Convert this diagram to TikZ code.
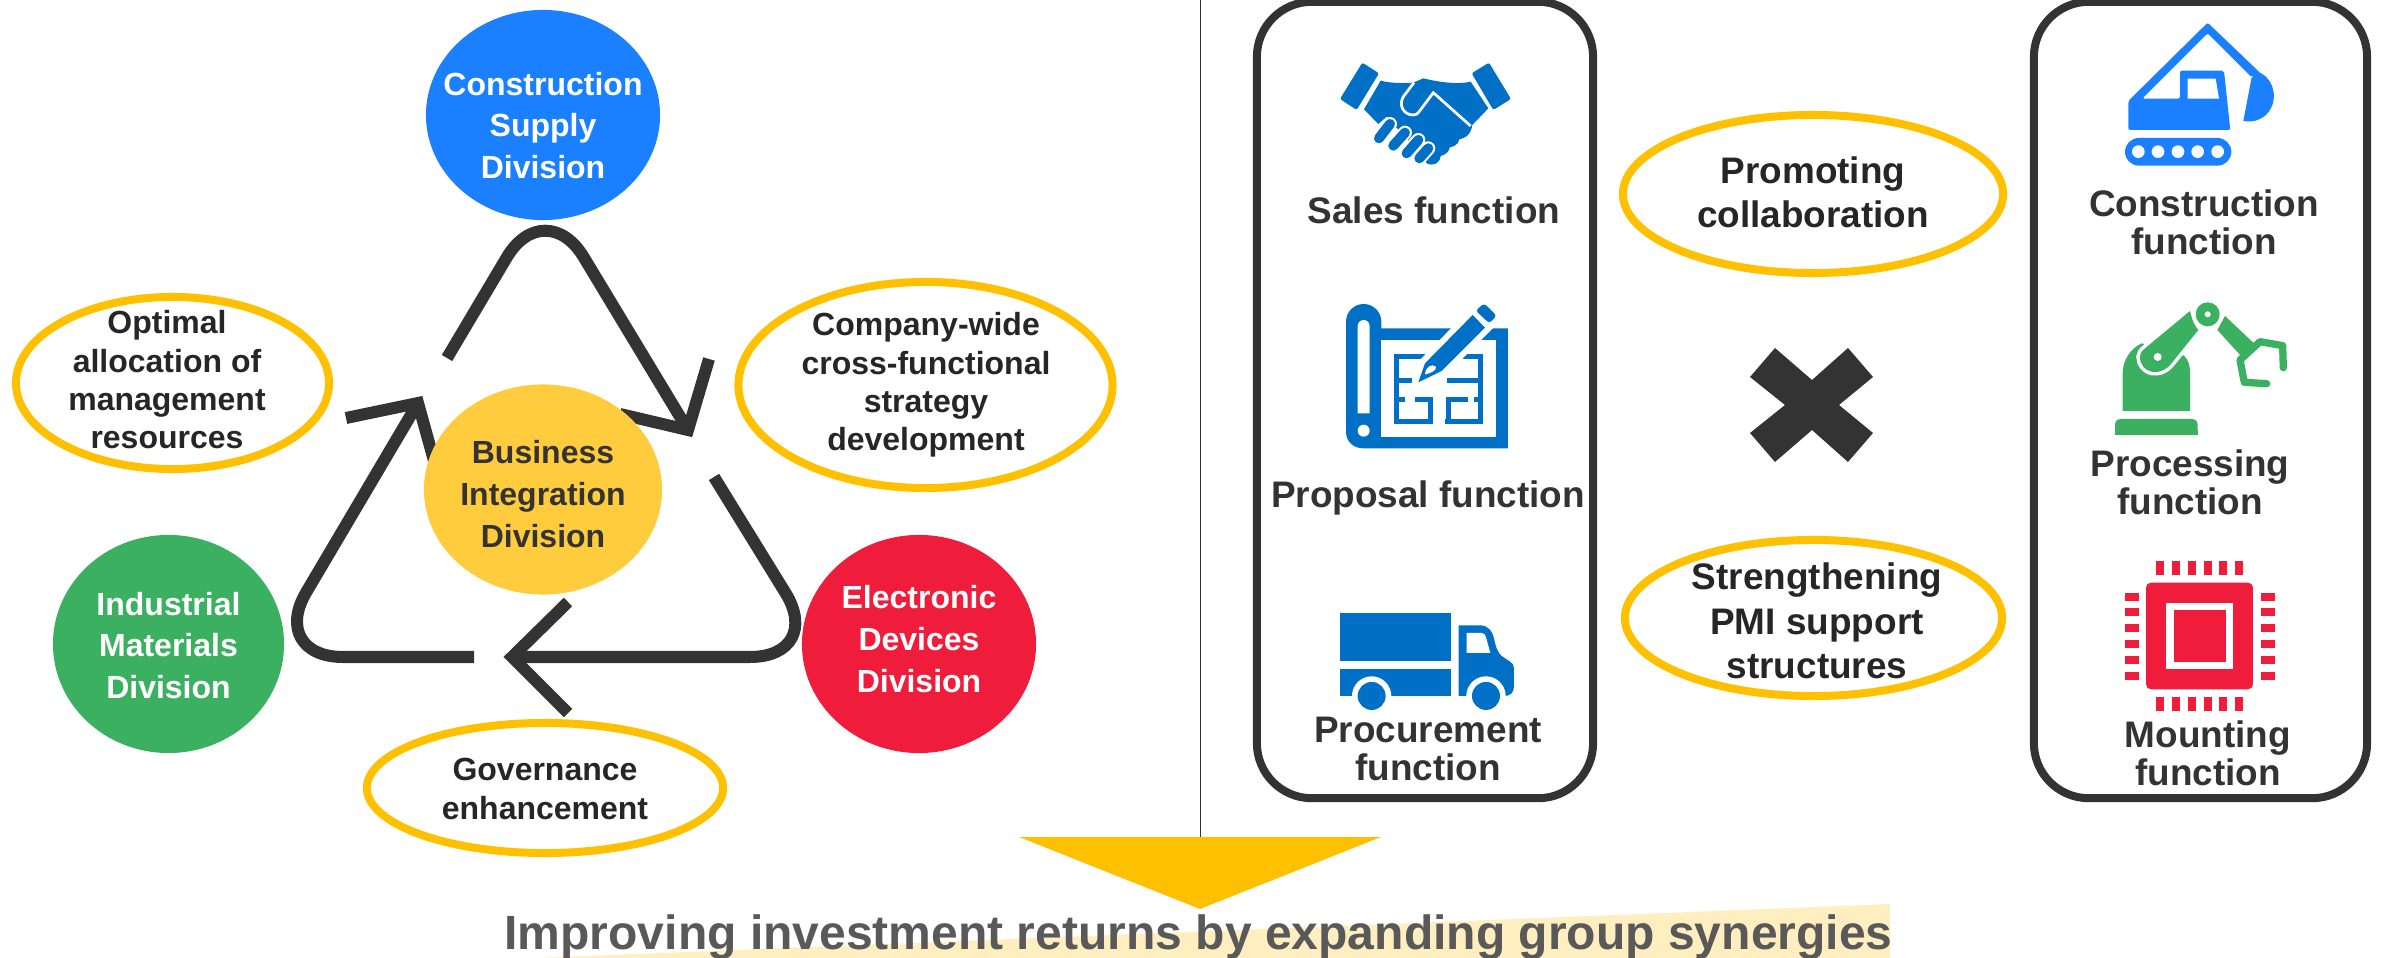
\documentclass[tikz,border=0pt]{standalone}
\usepackage{fontspec}
\setmainfont{Liberation Sans}
\usetikzlibrary{shapes.geometric}

\definecolor{darkline}{HTML}{333333}
\definecolor{oaltext}{HTML}{262626}
\definecolor{ovalline}{HTML}{FFC000}
\definecolor{constrblue}{HTML}{1A80FF}
\definecolor{iconblue}{HTML}{0070C6}
\definecolor{matgreen}{HTML}{3BB060}
\definecolor{devred}{HTML}{F01C3C}
\definecolor{bizyellow}{HTML}{FFCC3D}
\definecolor{titlegray}{HTML}{595959}
\definecolor{bandcream}{HTML}{FFEEC0}

\tikzset{
  division/.style={ellipse, inner sep=0pt},
  divtext/.style={align=center, font=\fontsize{9.1}{11.9}\selectfont\bfseries},
  oval/.style={ellipse, draw=ovalline, line width=.08cm, inner sep=0pt},
  ovaltext/.style={align=center, text=oaltext, font=\fontsize{9.1}{10.9}\selectfont\bfseries},
  bigoval/.style={ovaltext, font=\fontsize{10.5}{12.6}\selectfont\bfseries},
  funcbox/.style={draw=darkline, line width=.08cm, rounded corners=.55cm, inner sep=0pt},
  functext/.style={align=center, text=darkline, font=\fontsize{10.5}{10.8}\selectfont\bfseries},
  cycleline/.style={draw=darkline, line width=.12cm, line join=miter},
}

\begin{document}
\begin{tikzpicture}[x=0.01cm,y=-0.01cm]
\useasboundingbox (0,0) rectangle (2396,958);

% band and title
\fill[bandcream] (536,958) -- (1890,904) -- (1890,958) -- cycle;
\draw[darkline, line width=.01cm] (1200,0) -- (1200,837);
\fill[ovalline] (1019,837) -- (1381,837) -- (1200,909) -- cycle;
\node[text=titlegray, font=\fontsize{13.66}{16}\selectfont\bfseries] (title) at (1198.5,937) {Improving investment returns by expanding group synergies};

% the cycle
\coordinate (topstart) at (447,358);
\coordinate (apex) at (545,193);
\coordinate (righttip) at (688,430);
\coordinate (rightarma) at (709,359);
\coordinate (rightarmb) at (620,414);
\coordinate (rightstart) at (714,477);
\coordinate (rightcorner) at (825,657);
\coordinate (bottomtip) at (512,657);
\coordinate (bottomarma) at (568,602);
\coordinate (bottomarmb) at (568,713);
\coordinate (bottomstart) at (474,657);
\coordinate (leftcorner) at (268,657);
\coordinate (lefttip) at (418,403);
\coordinate (leftarma) at (346,418);
\coordinate (leftarmb) at (436,468);

\draw[cycleline, rounded corners=.75cm] (topstart) -- (apex) -- (righttip);
\draw[cycleline] (rightarma) -- (righttip) -- (rightarmb);
\draw[cycleline, rounded corners=.75cm] (rightstart) -- (rightcorner) -- (bottomtip);
\draw[cycleline] (bottomarma) -- (bottomtip) -- (bottomarmb);
\draw[cycleline, rounded corners=.75cm] (bottomstart) -- (leftcorner) -- (lefttip);
\draw[cycleline] (leftarma) -- (lefttip) -- (leftarmb);

% divisions
\node[division, fill=constrblue, minimum width=2.34cm, minimum height=2.10cm] (constr) at (543,115) {};
\node[divtext, text=white] (constrtext) at (543,125.5) {Construction\\Supply\\Division};
\node[division, fill=bizyellow, minimum width=2.38cm, minimum height=2.10cm] (biz) at (543,489.5) {};
\node[divtext, text=darkline] (biztext) at (543,494) {Business\\Integration\\Division};
\node[division, fill=matgreen, minimum width=2.31cm, minimum height=2.18cm] (mat) at (168.5,644) {};
\node[divtext, text=white] (mattext) at (168.5,645.5) {Industrial\\Materials\\Division};
\node[division, fill=devred, minimum width=2.34cm, minimum height=2.18cm] (dev) at (919,644) {};
\node[divtext, text=white] (devtext) at (919,639) {Electronic\\Devices\\Division};

% yellow ovals
\node[oval, minimum width=3.13cm, minimum height=1.72cm] (alloc) at (172.5,383) {};
\node[ovaltext] (alloctext) at (167,380) {Optimal\\allocation of\\management\\resources};
\node[oval, minimum width=3.74cm, minimum height=2.06cm] (strategy) at (925.5,385) {};
\node[ovaltext] (strategytext) at (926,385) {Company-wide\\cross-functional\\strategy\\development};
\node[oval, minimum width=3.56cm, minimum height=1.30cm] (govern) at (545,788) {};
\node[ovaltext] (governtext) at (545,789) {Governance\\enhancement};
\node[oval, minimum width=3.80cm, minimum height=1.58cm] (collab) at (1813,194) {};
\node[bigoval] (collabtext) at (1813,192.5) {Promoting\\collaboration};
\node[oval, minimum width=3.77cm, minimum height=1.56cm] (pmi) at (1813.5,618) {};
\node[bigoval] (pmitext) at (1817,621) {Strengthening\\PMI support\\structures};

% cross
\fill[darkline] (1812,380) -- (1848,348) -- (1873,377) -- (1839,405) -- (1873,433) -- (1848,462) -- (1812,430) -- (1775,462) -- (1750,433) -- (1785,405) -- (1750,377) -- (1775,348) -- cycle;

% function boxes
\node[funcbox, minimum width=3.36cm, minimum height=7.96cm] (leftbox) at (1425,400) {};
\node[funcbox, minimum width=3.33cm, minimum height=7.96cm] (rightbox) at (2200.5,400) {};
\node[functext] (sales) at (1434,210) {Sales function};
\node[functext] (proposal) at (1428,498) {Proposal function};
\node[functext] (procure) at (1428,749) {Procurement\\function};
\node[functext] (construct) at (2204,222.5) {Construction\\function};
\node[functext] (process) at (2190,482) {Processing\\function};
\node[functext] (mount) at (2208,753) {Mounting\\ function};

% handshake
\begin{scope}[shift={(1230,0)},scale=.3333]
  \fill[iconblue, rounded corners=.02cm] (397,188) -- (447,220) -- (380,330) -- (330,297) -- cycle;
  \fill[iconblue, rounded corners=.02cm] (777,188) -- (843,297) -- (790,330) -- (725,220) -- cycle;
  \fill[iconblue] (452,242) .. controls (480,250) and (520,250) .. (550,248) -- (580,235) .. controls (620,245) and (680,255) .. (722,245) -- (775,325) -- (727,375) .. controls (722,410) and (700,415) .. (688,418) .. controls (685,435) and (670,440) .. (660,442) .. controls (655,462) and (640,465) .. (632,468) .. controls (630,490) and (610,500) .. (590,490) -- (560,450) -- (470,350) -- (445,372) -- (402,328) -- cycle;
  \draw[white, line width=.027cm] (552,248) -- (520,290) .. controls (505,315) and (520,345) .. (550,345) .. controls (558,345) and (562,342) .. (565,338) -- (610,278) -- (722,378);
  \foreach \xa/\ya/\xb/\yb in {447/415/480/372, 490/437/525/398, 530/460/565/420, 568/475/595/445} {
    \draw[white, line width=.14cm, line cap=round] (\xa,\ya) -- (\xb,\yb);
    \draw[iconblue, line width=.10cm, line cap=round] (\xa,\ya) -- (\xb,\yb);
  }
\end{scope}

% blueprint
\begin{scope}[shift={(1335,295)},scale=.3333]
  \fill[iconblue] (33,80) arc (180:360:53) -- (139,100) -- (519,100) -- (519,460) -- (85,460) .. controls (55,460) and (33,440) .. (33,410) -- cycle;
  \fill[white] (139,135) rectangle (484,425);
  \fill[white] (68,93) arc (180:360:18) -- (104,355) -- (68,355) -- cycle;
  \fill[white] (86,407) circle[radius=18];
  \draw[iconblue, line width=.05cm] (270,185) -- (185,185) -- (185,380) -- (293,380);
  \draw[iconblue, line width=.05cm] (385,185) -- (437,185) -- (437,380) -- (330,380);
  \draw[iconblue, line width=.05cm] (185,258) -- (232,258);
  \draw[iconblue, line width=.05cm] (335,258) -- (437,258);
  \draw[iconblue, line width=.05cm] (185,313) -- (210,313);
  \draw[iconblue, line width=.05cm] (240,313) -- (285,313) -- (285,380);
  \draw[iconblue, line width=.05cm] (340,380) -- (340,313) -- (400,313);
  \draw[iconblue, line width=.05cm] (418,313) -- (437,313);
  \draw[white, line width=.12cm] (413,60) -- (270,205) -- (250,262) -- (320,228) -- (450,98) -- cycle;
  \fill[iconblue] (413,60) -- (270,205) -- (250,262) -- (320,228) -- (450,98) -- cycle;
  \fill[white] (270,238) .. controls (272,215) and (290,205) .. (303,215) .. controls (305,225) and (290,235) .. (270,238) -- cycle;
  \fill[iconblue, rounded corners=.03cm] (422,47) -- (447,25) -- (485,62) -- (463,85) -- cycle;
\end{scope}

% truck
\begin{scope}[shift={(1230,400)},scale=.3333]
  \fill[iconblue] (330,640) rectangle (663,782);
  \fill[iconblue] (330,806) rectangle (663,888);
  \fill[iconblue] (686,676) -- (750,676) .. controls (775,676) and (788,695) .. (792,715) .. controls (798,745) and (805,760) .. (815,768) -- (840,785) .. controls (848,790) and (852,795) .. (852,805) -- (852,860) .. controls (852,878) and (840,888) .. (825,888) -- (686,888) -- cycle;
  \fill[white] (710,699) -- (755,699) .. controls (763,699) and (766,705) .. (768,712) -- (781,759) -- (710,759) -- cycle;
  \foreach \wx in {425,768} {
    \fill[white] (\wx,888) circle[radius=59];
    \fill[white] (\wx-59,888) rectangle (\wx+59,935);
    \fill[iconblue] (\wx,888) circle[radius=42];
  }
\end{scope}

% excavator
\begin{scope}[shift={(2030,0)},scale=.3333]
  \fill[constrblue, rounded corners=.02cm] (295,303) -- (533,68) -- (692,220) -- (665,232) -- (533,100) -- (337,296) -- (450,296) -- (450,212) -- (582,212) -- (601,390) -- (295,390) -- cycle;
  \fill[white] (473,236) -- (557,236) -- (567,296) -- (473,296) -- cycle;
  \fill[constrblue] (665,232) -- (690,218) .. controls (715,230) and (732,258) .. (732,290) .. controls (730,335) and (695,372) .. (640,363) -- cycle;
  \fill[constrblue, rounded corners=.138cm] (285,414) rectangle (604,497);
  \foreach \hx in {325,384,444,503,563} \fill[white] (\hx,455) circle[radius=19];
\end{scope}

% robot arm
\begin{scope}[shift={(2110,295)},scale=.3333]
  \fill[matgreen, rounded corners=.05cm] (15,420) -- (15,372) -- (263,372) -- (263,420) -- cycle;
  \fill[matgreen] (15,405) rectangle (263,420);
  \fill[matgreen] (38,348) -- (38,235) .. controls (38,195) and (62,160) .. (95,145) -- (222,182) .. controls (235,195) and (240,210) .. (240,235) -- (240,348) -- cycle;
  \draw[white, line width=.07cm] (105,160) -- (240,48) .. controls (245,70) and (252,90) .. (265,105) -- (182,208) .. controls (160,235) and (120,240) .. (100,215) .. controls (85,195) and (85,175) .. (105,160) -- cycle;
  \fill[matgreen] (105,160) -- (240,48) .. controls (245,70) and (252,90) .. (265,105) -- (182,208) .. controls (160,235) and (120,240) .. (100,215) .. controls (85,195) and (85,175) .. (105,160) -- cycle;
  \fill[white] (143,186) circle[radius=12];
  \fill[matgreen] (345,63) -- (435,148) -- (395,185) -- (322,105) -- cycle;
  \fill[white] (293,58) circle[radius=47];
  \fill[matgreen] (293,58) circle[radius=36];
  \fill[white] (293,58) circle[radius=9];
  \draw[matgreen, line width=.073cm, line cap=round, line join=round] (470,266) -- (403,262) -- (390,195) -- (450,140) -- (518,152) -- (520,218);
\end{scope}

% chip
\begin{scope}[shift={(2030,420)},scale=.3333]
  \fill[devred, rounded corners=.05cm] (348,488) rectangle (669,808);
  \fill[white] (408,548) rectangle (610,748);
  \fill[devred] (432,570) rectangle (588,726);
  \foreach \px in {378,426,474,522,567,615} {
    \fill[devred] (\px,423) rectangle (\px+24,465);
    \fill[devred] (\px,831) rectangle (\px+24,873);
  }
  \foreach \py in {519,564,612,660,708,756} {
    \fill[devred] (285,\py) rectangle (327,\py+24);
    \fill[devred] (693,\py) rectangle (735,\py+24);
  }
\end{scope}

\end{tikzpicture}
\end{document}
